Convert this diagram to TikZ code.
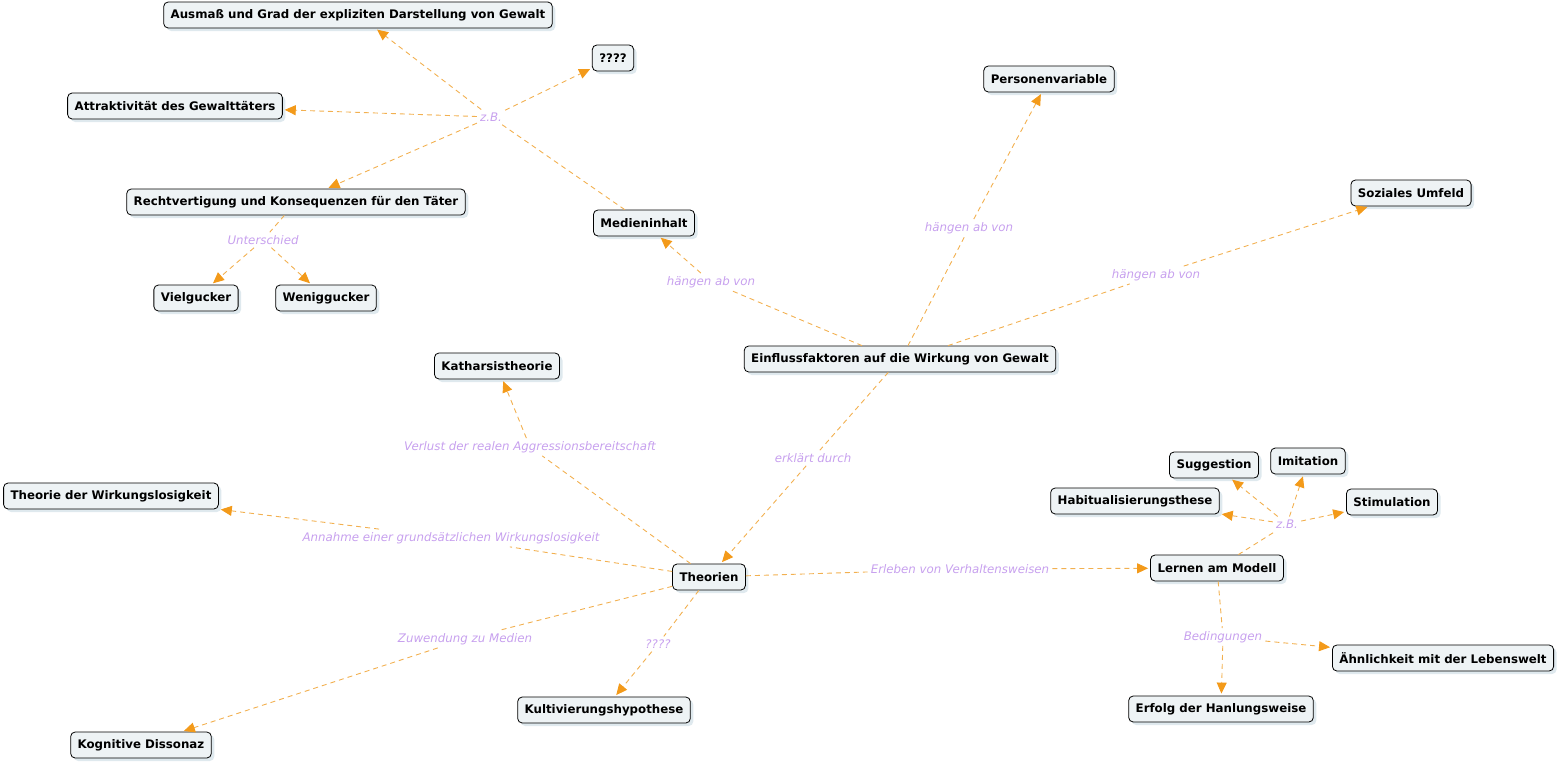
\documentclass[tikz,border=0pt]{standalone}
\usepackage{fontspec}
\setmainfont{DejaVu Sans}
\usetikzlibrary{arrows.meta,shadows}
\definecolor{nodefill}{HTML}{EEF3F5}
\definecolor{shadowc}{HTML}{DFE9EE}
\definecolor{linec}{HTML}{F2B050}
\definecolor{arrowc}{HTML}{F39A1A}
\definecolor{labelc}{HTML}{C7A0EE}
\tikzset{
  concept/.style={draw=black, line width=0.8pt, rounded corners=4.5pt, fill=nodefill,
    font=\fontsize{11.8}{13}\selectfont\bfseries, inner xsep=7pt, inner ysep=0pt,
    minimum height=26pt,
    drop shadow={shadow xshift=3pt, shadow yshift=-3pt, fill=shadowc, opacity=1, draw=none}},
  lbl/.style={font=\fontsize{11.8}{13}\selectfont\itshape, text=labelc, inner sep=3pt},
  conn/.style={draw=linec, line width=0.9pt, dash pattern=on 5pt off 4pt},
  arr/.style={conn, -{Triangle[length=11pt,width=10pt,color=arrowc,fill=arrowc]}, shorten >=2pt},
}
\begin{document}
\begin{tikzpicture}[x=1pt,y=-1pt]
\useasboundingbox (0,0) rectangle (1557,761);
% concepts
\node[concept] (ausmass) at (358,15) {Ausmaß und Grad der expliziten Darstellung von Gewalt};
\node[concept] (qq) at (613,58) {????};
\node[concept] (person) at (1049,79) {Personenvariable};
\node[concept] (attr) at (175,106) {Attraktivität des Gewalttäters};
\node[concept] (sozial) at (1411,193) {Soziales Umfeld};
\node[concept] (recht) at (296,202) {Rechtvertigung und Konsequenzen für den Täter};
\node[concept] (medien) at (644,223) {Medieninhalt};
\node[concept] (viel) at (196,298) {Vielgucker};
\node[concept] (wenig) at (326,298) {Weniggucker};
\node[concept] (einfluss) at (900,359) {Einflussfaktoren auf die Wirkung von Gewalt};
\node[concept] (kath) at (497,366) {Katharsistheorie};
\node[concept] (sugg) at (1214,465) {Suggestion};
\node[concept] (imit) at (1308,461) {Imitation};
\node[concept] (wirk) at (111,496) {Theorie der Wirkungslosigkeit};
\node[concept] (habit) at (1135,501) {Habitualisierungsthese};
\node[concept] (stim) at (1392,502) {Stimulation};
\node[concept] (lernen) at (1217,568) {Lernen am Modell};
\node[concept] (theorien) at (709,577) {Theorien};
\node[concept] (aehn) at (1443,658) {Ähnlichkeit mit der Lebenswelt};
\node[concept] (erfolg) at (1221,709) {Erfolg der Hanlungsweise};
\node[concept] (kult) at (604,710) {Kultivierungshypothese};
\node[concept] (kogn) at (141,745) {Kognitive Dissonaz};
% linking labels
\node[lbl] (zb1) at (491,117) {z.B.};
\node[lbl] (hab1) at (711,282) {hängen ab von};
\node[lbl] (hab2) at (969,228) {hängen ab von};
\node[lbl] (hab3) at (1156,275) {hängen ab von};
\node[lbl] (unter) at (263,240) {Unterschied};
\node[lbl] (erkl) at (813,458) {erklärt durch};
\node[lbl] (verl) at (530,447) {Verlust der realen Aggressionsbereitschaft};
\node[lbl] (annahme) at (451,538) {Annahme einer grundsätzlichen Wirkungslosigkeit};
\node[lbl] (erleb) at (960,569) {Erleben von Verhaltensweisen};
\node[lbl] (zb2) at (1287,524) {z.B.};
\node[lbl] (zuw) at (465,639) {Zuwendung zu Medien};
\node[lbl] (qq2) at (658,644) {????};
\node[lbl] (bed) at (1223,637) {Bedingungen};
% anchor points on the top edge of the source concept
\coordinate (e1) at ([xshift=-38pt]einfluss.north);
\coordinate (e2) at ([xshift=8pt]einfluss.north);
\coordinate (e3) at ([xshift=48pt]einfluss.north);
% connectors
\draw[conn] (medien) -- (zb1);
\draw[arr] (zb1) -- (ausmass);
\draw[arr] (zb1) -- (qq);
\draw[arr] (zb1) -- (attr);
\draw[arr] (zb1) -- (recht);
\draw[conn] (e1) -- (hab1);
\draw[arr] (hab1) -- (medien);
\draw[conn] (e2) -- (hab2);
\draw[arr] (hab2) -- (person);
\draw[conn] (e3) -- (hab3);
\draw[arr] (hab3) -- (sozial);
\draw[conn] (recht) -- (unter);
\draw[arr] (unter) -- (viel);
\draw[arr] (unter) -- (wenig);
\draw[conn] (einfluss) -- (erkl);
\draw[arr] (erkl) -- (theorien);
\draw[conn] (theorien) -- (verl);
\draw[arr] (verl) -- (kath);
\draw[conn] (theorien) -- (annahme);
\draw[arr] (annahme) -- (wirk);
\draw[conn] (theorien) -- (erleb);
\draw[arr] (erleb) -- (lernen);
\draw[conn] (theorien) -- (zuw);
\draw[arr] (zuw) -- (kogn);
\draw[conn] (theorien) -- (qq2);
\draw[arr] (qq2) -- (kult);
\draw[conn] (lernen) -- (zb2);
\draw[arr] (zb2) -- (sugg);
\draw[arr] (zb2) -- (imit);
\draw[arr] (zb2) -- (habit);
\draw[arr] (zb2) -- (stim);
\draw[conn] (lernen) -- (bed);
\draw[arr] (bed) -- (aehn);
\draw[arr] (bed) -- (erfolg);
\end{tikzpicture}
\end{document}
